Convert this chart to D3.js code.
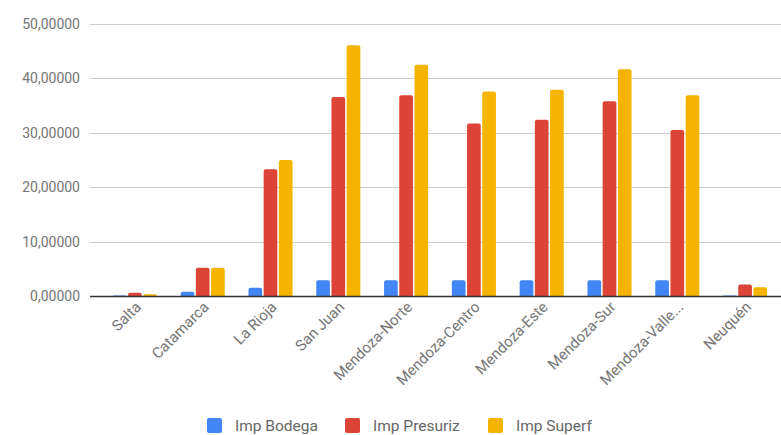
<!DOCTYPE html>
<html>
<head>
<meta charset="utf-8">
<script src="https://cdn.jsdelivr.net/npm/d3@7"></script>
<style>
  body { margin: 0; background: #fff; }
  svg { font-family: Roboto, Arial, sans-serif; display: block; }
</style>
</head>
<body>
<div id="chart"></div>
<script>
// datos
var categories = ["Salta", "Catamarca", "La Rioja", "San Juan", "Mendoza-Norte", "Mendoza-Centro", "Mendoza-Este", "Mendoza-Sur", "Mendoza-Valle...", "Neuquén"];
var impBodega = [0.1, 0.8, 1.5, 2.9, 2.9, 2.9, 2.9, 2.9, 2.9, 0.1];
var impPresuriz = [0.6, 5.2, 23.3, 36.6, 36.9, 31.7, 32.4, 35.8, 30.5, 2.1];
var impSuperf = [0.3, 5.2, 25.0, 46.1, 42.5, 37.6, 37.9, 41.7, 36.9, 1.6];
var seriesNames = ["Imp Bodega", "Imp Presuriz", "Imp Superf"];
var yTicks = [0, 10, 20, 30, 40, 50];

var colors = ["#4285f4", "#db4437", "#f4b400"];
var series = [impBodega, impPresuriz, impSuperf];

var width = 781, height = 435;
var svg = d3.select("#chart").append("svg")
  .attr("width", width)
  .attr("height", height);

var y = d3.scaleLinear().domain([0, 50]).range([296, 24]);
var x = d3.scaleBand().domain(categories).range([101, 779]).paddingInner(0.35).paddingOuter(0.175);
var xs = d3.scaleBand().domain(d3.range(3)).range([0, x.bandwidth()]).paddingInner(0.1);

var es = d3.formatLocale({decimal: ",", thousands: ".", grouping: [3], currency: ["$", ""]});
var fmt = es.format(".5f");

// grid
svg.append("g").selectAll("line")
  .data(yTicks.filter(function(d){ return d > 0; }))
  .enter().append("line")
  .attr("x1", 90).attr("x2", width)
  .attr("y1", function(d){ return Math.round(y(d)) + 0.5; })
  .attr("y2", function(d){ return Math.round(y(d)) + 0.5; })
  .attr("stroke", "#cccccc").attr("stroke-width", 1);

// y labels
svg.append("g").selectAll("text")
  .data(yTicks)
  .enter().append("text")
  .attr("x", 80)
  .attr("y", function(d){ return y(d); })
  .attr("dy", "0.35em")
  .attr("text-anchor", "end")
  .attr("font-size", 14)
  .attr("fill", "#757575")
  .text(function(d){ return fmt(d); });

// bars with rounded tops
function barPath(x0, w, v) {
  var top = y(v), base = y(0);
  var r = Math.min(2, (base - top));
  return "M" + x0 + "," + base +
    "V" + (top + r) +
    "Q" + x0 + "," + top + " " + (x0 + r) + "," + top +
    "H" + (x0 + w - r) +
    "Q" + (x0 + w) + "," + top + " " + (x0 + w) + "," + (top + r) +
    "V" + base + "Z";
}

var groups = svg.append("g").selectAll("g")
  .data(categories)
  .enter().append("g")
  .attr("transform", function(d){ return "translate(" + x(d) + ",0)"; });

groups.selectAll("path")
  .data(function(d, i){ return series.map(function(s, k){ return {k: k, v: s[i]}; }); })
  .enter().append("path")
  .attr("d", function(d){ return barPath(xs(d.k), xs.bandwidth(), d.v); })
  .attr("fill", function(d){ return colors[d.k]; });

// baseline
svg.append("line")
  .attr("x1", 90).attr("x2", width)
  .attr("y1", y(0) + 0.5).attr("y2", y(0) + 0.5)
  .attr("stroke", "#333333").attr("stroke-width", 1.3);

// x labels rotated
svg.append("g").selectAll("text")
  .data(categories)
  .enter().append("text")
  .attr("transform", function(d){
    var cx = x(d) + x.bandwidth() / 2 + 7;
    return "translate(" + cx + ",308) rotate(-45)";
  })
  .attr("text-anchor", "end")
  .attr("font-size", 15)
  .attr("fill", "#757575")
  .text(function(d){ return d; });

// legend
var legX = [207, 345, 488];
var leg = svg.append("g").selectAll("g")
  .data(seriesNames)
  .enter().append("g")
  .attr("transform", function(d, i){ return "translate(" + legX[i] + ",418)"; });
leg.append("rect")
  .attr("width", 15).attr("height", 15).attr("rx", 2)
  .attr("fill", function(d, i){ return colors[i]; });
leg.append("text")
  .attr("x", 28).attr("y", 7.5).attr("dy", "0.35em")
  .attr("font-size", 15.5)
  .attr("fill", "#666666")
  .text(function(d){ return d; });
</script>
</body>
</html>
